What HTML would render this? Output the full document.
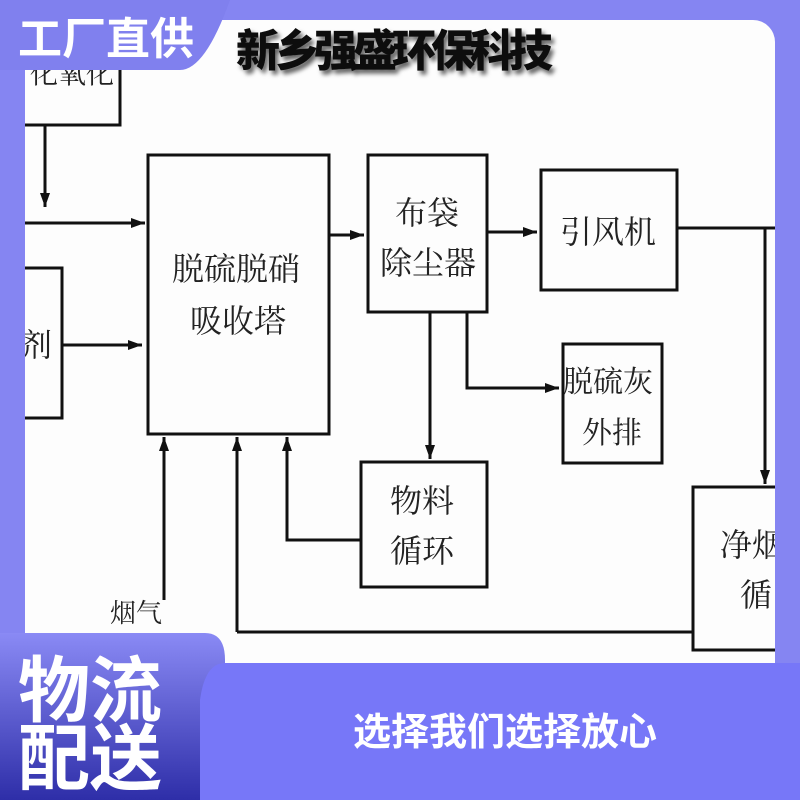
<!DOCTYPE html><html><head><meta charset="utf-8"><style>
body{margin:0;width:800px;height:800px;overflow:hidden;background:#8585f2;position:relative;font-family:"Liberation Sans","Noto Serif CJK SC",serif}
.w{position:absolute;left:25px;top:20px;width:750px;height:645px;background:#fdfdfd;border-top-right-radius:22px}
svg{position:absolute;left:0;top:0}
.t{font-family:"Noto Serif CJK SC","Noto Sans CJK SC",serif;fill:#222}
</style></head><body>
<div class="w"></div>
<svg width="800" height="800">
<defs><marker id="a" markerWidth="14" markerHeight="10" refX="14" refY="5" orient="auto" markerUnits="userSpaceOnUse"><path d="M0,0 L14,5 L0,10z" fill="#111"/></marker>
<filter id="s"><feDropShadow dx="3" dy="4" stdDeviation="2" flood-color="#000" flood-opacity="0.6"/></filter></defs>
<g stroke="#111" stroke-width="3" fill="none">
<rect x="15" y="10" width="105" height="115"/>
<rect x="15" y="268" width="47" height="150"/>
<rect x="148" y="155" width="181" height="279"/>
<rect x="368" y="155" width="119" height="157"/>
<rect x="541" y="170" width="136" height="120"/>
<rect x="563" y="344" width="99" height="119"/>
<rect x="361" y="462" width="126" height="125"/>
<rect x="693" y="487" width="100" height="163"/>
<path d="M45 125V207" marker-end="url(#a)"/>
<path d="M25 223H145" marker-end="url(#a)"/>
<path d="M62 345H142" marker-end="url(#a)"/>
<path d="M329 235H364" marker-end="url(#a)"/>
<path d="M487 232H537" marker-end="url(#a)"/>
<path d="M677 228H775M765 228V440"/>
<path d="M765 430V484" marker-end="url(#a)"/>
<path d="M430 312V459" marker-end="url(#a)"/>
<path d="M467 312V388H559" marker-end="url(#a)"/>
<path d="M361 540H287V437" marker-end="url(#a)"/>
<path d="M164 600V437" marker-end="url(#a)"/>
<path d="M237 632V437" marker-end="url(#a)"/>
<path d="M237 632H693"/>
</g>
<g class="t" font-size="32">
<text x="30" y="83" font-size="28">化氧化</text>
<text x="20" y="356">剂</text>
<text x="172" y="280">脱硫脱硝</text>
<text x="190" y="332">吸收塔</text>
<text x="395" y="224">布袋</text>
<text x="380" y="274">除尘器</text>
<text x="560" y="243">引风机</text>
<text x="563" y="392" font-size="30">脱硫灰</text>
<text x="582" y="443" font-size="30">外排</text>
<text x="390" y="512">物料</text>
<text x="390" y="562">循环</text>
<text x="720" y="556">净烟</text>
<text x="740" y="606">循</text>
<text x="110" y="622" font-size="26">烟气</text>
</g>
<rect x="775" y="20" width="25" height="650" fill="#8585f2"/>
<rect x="0" y="20" width="25" height="650" fill="#8585f2"/>
<rect x="0" y="663" width="800" height="137" fill="#7777f8"/>
<path d="M0 0H230Q205 70 180 70H0z" fill="#8080ee"/>
<text x="18" y="54" font-family="Noto Sans CJK SC" font-weight="bold" font-size="44" fill="#fff">工厂直供</text>
<text x="236" y="66" font-family="Noto Sans CJK SC" font-weight="900" font-size="44" fill="#111" letter-spacing="-5" filter="url(#s)">新乡强盛环保科技</text>
<defs><linearGradient id="g" x1="0" y1="0" x2="0" y2="1"><stop offset="0" stop-color="#8a8af5"/><stop offset="1" stop-color="#2e2ea8"/></linearGradient></defs>
<path d="M0 633H205Q225 633 225 660V663Q205 663 200 700V800H0z" fill="url(#g)"/>
<text x="18" y="716" font-family="Noto Sans CJK SC" font-weight="bold" font-size="72" fill="#fff">物流</text>
<text x="18" y="784" font-family="Noto Sans CJK SC" font-weight="bold" font-size="72" fill="#fff">配送</text>
<text x="353" y="745" font-family="Noto Sans CJK SC" font-weight="bold" font-size="38" fill="#fff">选择我们选择放心</text>
</svg>
</body></html>
